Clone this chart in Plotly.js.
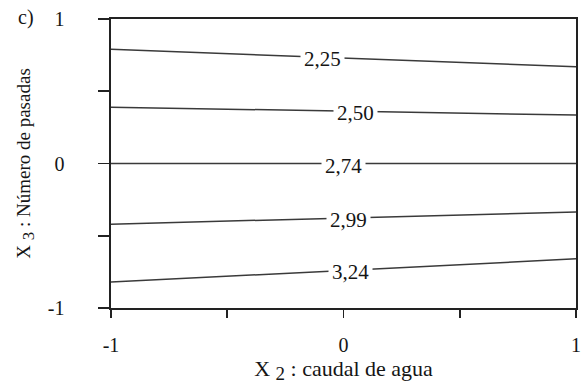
<!DOCTYPE html>
<html>
<head>
<meta charset="utf-8">
<script src="https://cdn.plot.ly/plotly-3.0.1.min.js"></script>
<style>html,body{margin:0;padding:0;background:#fff}#chart{width:587px;height:386px}</style>
</head>
<body>
<div id="chart"></div>
<script>
// Contour levels and their labels
const levels = [2.25, 2.50, 2.74, 2.99, 3.24];
const levelLabels = ['2,25', '2,50', '2,74', '2,99', '3,24'];
// x extent of each contour line
const xEnds = [-1, 1];
// contour y at x=-1 and x=1
const yLeft  = [0.79, 0.39, 0.0, -0.42, -0.82];
const yRight = [0.67, 0.335, 0.0, -0.335, -0.66];
// x position of each level label along its line
const labelX = [-0.09, 0.05, 0.0, 0.02, 0.03];
// axis ticks
const tickVals = [-1, -0.5, 0, 0.5, 1];
const tickText = ['-1', '', '0', '', '1'];

const FONT = 'Liberation Serif, Times New Roman, serif';
const INK = '#151515';

const traces = levels.map((lv, i) => ({
  type: 'scatter', mode: 'lines',
  x: xEnds, y: [yLeft[i], yRight[i]],
  line: {color: '#3a3a3a', width: 1.5},
  hoverinfo: 'skip', showlegend: false
}));

const annotations = levels.map((lv, i) => {
  const t = (labelX[i] - xEnds[0]) / (xEnds[1] - xEnds[0]);
  const y = yLeft[i] + t * (yRight[i] - yLeft[i]);
  return {
    x: labelX[i], y: y, xref: 'x', yref: 'y', yshift: -2,
    text: levelLabels[i], showarrow: false,
    bgcolor: '#ffffff', borderpad: 3,
    font: {family: FONT, size: 21, color: INK}
  };
});
annotations.push({
  xref: 'paper', yref: 'paper',
  x: (26 - 111) / 465, y: 1 + (19 - 18) / 289,
  xanchor: 'center', yanchor: 'middle',
  text: 'c)', showarrow: false,
  font: {family: FONT, size: 20, color: INK}
});

const axisCommon = {
  range: [-1, 1], showgrid: false, zeroline: false,
  showline: true, linecolor: '#222', linewidth: 1.6, mirror: true,
  ticks: 'outside', tickcolor: '#222', tickwidth: 1.6,
  tickmode: 'array', tickvals: tickVals, ticktext: tickText,
  tickfont: {family: FONT, size: 20, color: INK},
  fixedrange: true
};

const layout = {
  width: 587, height: 386,
  margin: {l: 111, r: 11, t: 19, b: 78},
  paper_bgcolor: '#fff', plot_bgcolor: '#fff',
  showlegend: false,
  xaxis: Object.assign({}, axisCommon, {
    ticklen: 8, ticklabelstandoff: 10,
    title: {text: 'X <sub><span style="font-size:19px">2</span></sub> : caudal de agua', standoff: 4,
            font: {family: FONT, size: 22, color: INK}}
  }),
  yaxis: Object.assign({}, axisCommon, {
    ticklen: 11, ticklabelstandoff: 30,
    title: {text: 'X <sub><span style="font-size:17px">3</span></sub> : Número de pasadas', standoff: 12,
            font: {family: FONT, size: 19, color: INK}}
  }),
  annotations: annotations
};

Plotly.newPlot('chart', traces, layout, {staticPlot: true, displayModeBar: false});
</script>
</body>
</html>
